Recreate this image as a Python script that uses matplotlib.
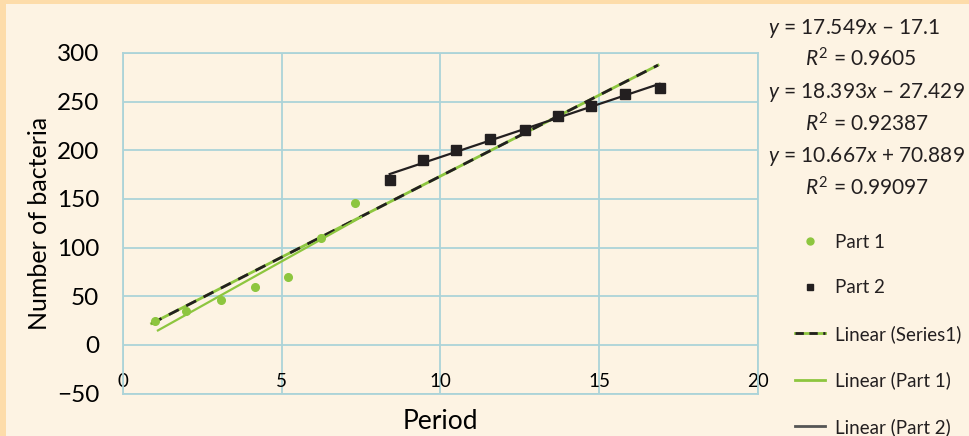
import numpy as np
import matplotlib
matplotlib.use("Agg")
import matplotlib.pyplot as plt
from matplotlib.lines import Line2D
from matplotlib.patches import Rectangle
from matplotlib.legend_handler import HandlerTuple

plt.rcParams['font.family'] = ['Lato', 'DejaVu Sans']
plt.rcParams['mathtext.fontset'] = 'custom'
plt.rcParams['mathtext.rm'] = 'Lato'
plt.rcParams['mathtext.it'] = 'Lato:italic'

# data
part1_x = [1.0, 2.0, 3.1, 4.15, 5.2, 6.25, 7.3]
part1_y = [25, 35, 46, 60, 70, 110, 146]
part2_x = [8.4, 9.45, 10.5, 11.55, 12.65, 13.7, 14.75, 15.8, 16.9]
part2_y = [170, 190, 200, 212, 221, 235, 246, 258, 264]

equations = ["$y$ = 17.549$x$ \u2013 17.1", "$R^2$ = 0.9605",
             "$y$ = 18.393$x$ \u2013 27.429", "$R^2$ = 0.92387",
             "$y$ = 10.667$x$ + 70.889", "$R^2$ = 0.99097"]

x_ticks = [0, 5, 10, 15, 20]
y_ticks = [-50, 0, 50, 100, 150, 200, 250, 300]

green = "#8dc63f"
black = "#231f20"
grid_c = "#acd3d8"
cream = "#fdf3e3"
orange = "#fddcaa"

fig = plt.figure(figsize=(9.7, 4.36), dpi=100)
fig.patch.set_facecolor(orange)
fig.patches.append(Rectangle((6 / 970, 0), 1, 1 - 4 / 436, transform=fig.transFigure,
                             facecolor=cream, edgecolor="none", zorder=-10))

ax = fig.add_axes([123 / 970, 42.4 / 436, 635 / 970, 340.6 / 436])
ax.set_facecolor(cream)
ax.set_xlim(0, 20)
ax.set_ylim(-50, 300)
ax.set_xticks(x_ticks)
ax.set_yticks(y_ticks)
ax.grid(True, color=grid_c, lw=1.3)
ax.set_axisbelow(True)
for s in ax.spines.values():
    s.set_color(grid_c)
    s.set_linewidth(1.3)
ax.tick_params(length=0)
ax.set_yticklabels(["\u221250" if t < 0 else str(t) for t in y_ticks], fontsize=17.5)
ax.tick_params(axis="y", pad=17)
ax.set_xticklabels([str(t) for t in x_ticks], fontsize=13.5)
ax.tick_params(axis="x", pad=-15)

# trendlines
all_x = np.array(part1_x + part2_x)
all_y = np.array(part1_y + part2_y)
k, b = np.polyfit(all_x, all_y, 1)
xs = np.array([all_x.min() - 0.1, all_x.max() - 0.05])
ax.plot(xs, k * xs + b, color=green, lw=2, zorder=3)
ax.plot(xs, k * xs + b, color=black, lw=2, ls=(0, (4, 3)), zorder=3)

k1, b1 = np.polyfit(part1_x, part1_y, 1)
xs1 = np.array([part1_x[0] + 0.1, part1_x[-1] + 0.2])
ax.plot(xs1, k1 * xs1 + b1, color=green, lw=1.6, zorder=3)

k2, b2 = np.polyfit(part2_x, part2_y, 1)
xs2 = np.array([part2_x[0], part2_x[-1]])
ax.plot(xs2, k2 * xs2 + b2, color=black, lw=1.6, zorder=3)

ax.plot(part1_x, part1_y, "o", color=green, ms=5.5, zorder=4)
ax.plot(part2_x, part2_y, "s", color=black, ms=6.5, zorder=4)

ax.set_xlabel("Period", fontsize=19, labelpad=11)
ax.set_ylabel("Number of bacteria", fontsize=18, labelpad=4)

# equation text at the right
eq_y = [28, 59, 93, 124, 157, 188]
for i, (txt, yy) in enumerate(zip(equations, eq_y)):
    xx = 768 if i % 2 == 0 else 805
    fig.text(xx / 970, 1 - yy / 436, txt, fontsize=15, color=black, va="center", ha="left")

handles = [
    Line2D([], [], ls="none", marker="o", color=green, ms=5),
    Line2D([], [], ls="none", marker="s", color=black, ms=5),
    (Line2D([], [], color=green, lw=2), Line2D([], [], color=black, lw=2, ls=(0, (3, 2)))),
    Line2D([], [], color=green, lw=2),
    Line2D([], [], color="#555555", lw=2),
]
labels = ["Part 1", "Part 2", "Linear (Series1)", "Linear (Part 1)", "Linear (Part 2)"]
fig.legend(handles, labels, loc="upper left", bbox_to_anchor=(788 / 970, 1 - 226 / 436),
           frameon=False, fontsize=13.5, labelspacing=1.53, handlelength=1.6,
           handletextpad=0.5, borderaxespad=0, borderpad=0.4, labelcolor=black,
           handler_map={tuple: HandlerTuple(ndivide=1, pad=0)})

fig.savefig("out.png", dpi=100, facecolor=fig.get_facecolor())
